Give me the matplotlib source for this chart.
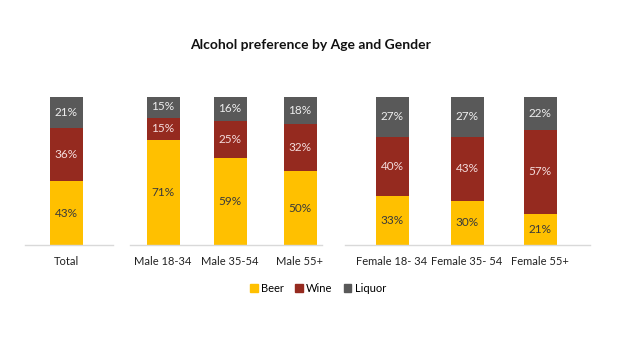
import matplotlib
matplotlib.use("Agg")
import matplotlib.pyplot as plt
from matplotlib.patches import Patch

categories = ["Total", "Male 18-34", "Male 35-54", "Male 55+",
              "Female 18- 34", "Female 35- 54", "Female 55+"]
beer = [43, 71, 59, 50, 33, 30, 21]
wine = [36, 15, 25, 32, 40, 43, 57]
liquor = [21, 15, 16, 18, 27, 27, 22]

# layout (pixel units across a 635 px wide figure)
centers = [66, 163, 230, 300, 392, 467, 540]
bar_w = 33
groups = [(25, 113), (130, 322), (345, 590)]

plt.rcParams["font.family"] = ["Lato", "DejaVu Sans"]

fig = plt.figure(figsize=(6.35, 3.57), dpi=100)
ax = fig.add_axes([0, (357 - 245) / 357, 1, 148 / 357])
ax.set_xlim(0, 635)
ax.set_ylim(0, 100)
ax.axis("off")

c_beer, c_wine, c_liq = "#FFC000", "#952A1F", "#595959"
ax.bar(centers, beer, width=bar_w, color=c_beer)
ax.bar(centers, wine, width=bar_w, bottom=beer, color=c_wine)
bot = [b + w for b, w in zip(beer, wine)]
ax.bar(centers, liquor, width=bar_w, bottom=bot, color=c_liq)

for x, b, w, l in zip(centers, beer, wine, liquor):
    ax.text(x, b / 2, f"{b}%", ha="center", va="center", fontsize=8.5, color="#3a3a3a")
    ax.text(x, b + w / 2, f"{w}%", ha="center", va="center", fontsize=8.5, color="#f4dcdc")
    ax.text(x, b + w + l / 2, f"{l}%", ha="center", va="center", fontsize=8.5, color="#eeeeee")

for x0, x1 in groups:
    ax.plot([x0, x1], [0, 0], color="#d9d9d9", lw=1, clip_on=False)

for x, c in zip(centers, categories):
    ax.text(x, -11, c, ha="center", va="center", fontsize=8, color="#222222")

fig.text(311 / 635, 1 - 45 / 357, "Alcohol preference by Age and Gender",
         ha="center", va="center", fontsize=10, fontweight="bold", color="#111111")

handles = [Patch(color=c_beer, label="Beer"), Patch(color=c_wine, label="Wine"),
           Patch(color=c_liq, label="Liquor")]
fig.legend(handles=handles, loc="center", bbox_to_anchor=(318 / 635, 1 - 288 / 357),
           ncol=3, frameon=False, fontsize=8, handlelength=0.7, handleheight=0.7,
           handletextpad=0.3, columnspacing=1.0)

fig.savefig("out.png", dpi=100)
